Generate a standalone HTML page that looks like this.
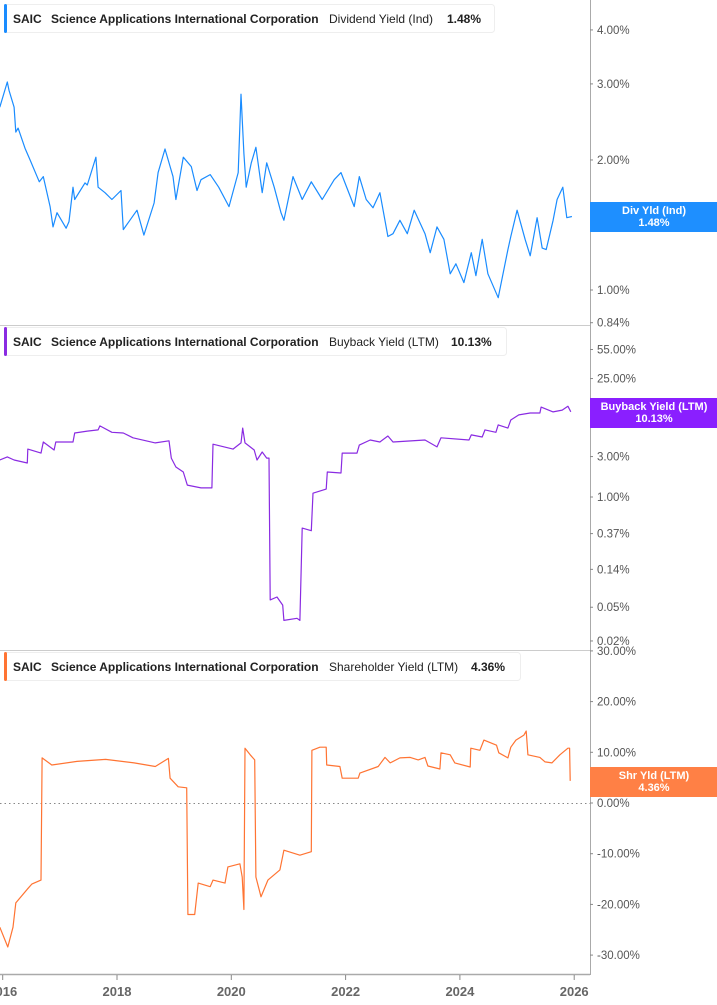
<!DOCTYPE html>
<html><head><meta charset="utf-8"><style>
body{margin:0;background:#fff;width:717px;height:1005px;overflow:hidden;font-family:"Liberation Sans",sans-serif}
svg{display:block}
.tk{font-size:11.5px;fill:#555}
.xl{font-size:13px;font-weight:bold;fill:#666}
.lg{font-size:12px;font-weight:bold;fill:#222}
.lgn{font-size:12px;fill:#222}
.tag{font-size:11px;font-weight:bold;fill:#fff}
</style></head><body>
<svg id="chart" width="717" height="1005" xmlns="http://www.w3.org/2000/svg"></svg>
<script>
// ---- data ----
const xYears = [2016, 2018, 2020, 2022, 2024, 2026];
const divTicks = [4, 3, 2, 1, 0.84];
const bbTicks = [55, 25, 3, 1, 0.37, 0.14, 0.05, 0.02];
const shrTicks = [30, 20, 10, 0, -10, -20, -30];
const divDates = [2015.95,2016.08,2016.11,2016.2,2016.23,2016.27,2016.39,2016.48,2016.64,2016.71,2016.83,2016.88,2016.95,2017.11,2017.16,2017.23,2017.26,2017.44,2017.48,2017.63,2017.67,2017.79,2017.91,2018.07,2018.11,2018.35,2018.47,2018.65,2018.72,2018.84,2018.98,2019.03,2019.16,2019.3,2019.4,2019.47,2019.63,2019.78,2019.96,2020.12,2020.17,2020.22,2020.26,2020.35,2020.43,2020.54,2020.62,2020.75,2020.87,2020.92,2021.08,2021.24,2021.4,2021.59,2021.8,2021.92,2022.15,2022.24,2022.36,2022.48,2022.6,2022.74,2022.83,2022.95,2023.08,2023.2,2023.39,2023.48,2023.6,2023.72,2023.83,2023.93,2024.07,2024.2,2024.28,2024.39,2024.49,2024.67,2024.84,2024.89,2025.0,2025.14,2025.23,2025.35,2025.44,2025.51,2025.63,2025.7,2025.8,2025.87,2025.96];
const divVals = [2.65,3.03,2.9,2.65,2.32,2.37,2.13,2.0,1.78,1.83,1.56,1.4,1.51,1.39,1.44,1.73,1.62,1.77,1.75,2.03,1.73,1.68,1.62,1.7,1.38,1.53,1.34,1.59,1.87,2.12,1.83,1.62,2.03,1.93,1.7,1.8,1.85,1.73,1.56,1.87,2.84,2.07,1.73,1.97,2.14,1.68,1.97,1.73,1.51,1.45,1.83,1.62,1.78,1.62,1.8,1.87,1.56,1.83,1.62,1.55,1.68,1.33,1.35,1.45,1.35,1.53,1.35,1.22,1.4,1.31,1.09,1.15,1.04,1.22,1.08,1.31,1.09,0.96,1.24,1.33,1.53,1.31,1.2,1.47,1.25,1.24,1.45,1.62,1.73,1.47,1.48];
const bbDates = [2015.95,2016.08,2016.2,2016.43,2016.44,2016.67,2016.71,2016.9,2016.93,2017.23,2017.26,2017.48,2017.67,2017.7,2017.91,2018.11,2018.28,2018.67,2018.91,2018.95,2019.03,2019.16,2019.23,2019.47,2019.66,2019.68,2020.03,2020.17,2020.2,2020.24,2020.4,2020.45,2020.54,2020.62,2020.66,2020.68,2020.8,2020.9,2020.92,2021.15,2021.2,2021.24,2021.4,2021.43,2021.66,2021.68,2021.92,2021.94,2022.2,2022.24,2022.43,2022.6,2022.74,2022.83,2023.39,2023.6,2023.67,2024.16,2024.2,2024.39,2024.44,2024.63,2024.67,2024.84,2024.89,2025.03,2025.23,2025.4,2025.42,2025.63,2025.79,2025.89,2025.94];
const bbVals = [2.73,2.97,2.73,2.52,3.68,3.3,4.46,3.59,4.46,4.46,5.7,6.0,6.2,6.9,5.8,5.7,5.0,4.35,4.6,2.88,2.26,1.97,1.38,1.28,1.28,4.2,3.68,4.35,6.5,4.35,3.59,2.73,3.4,2.88,2.88,0.061,0.066,0.053,0.035,0.037,0.035,0.43,0.4,1.11,1.24,1.97,1.92,3.3,3.3,4.1,4.7,4.46,5.25,4.46,4.7,3.9,5.0,4.7,5.4,5.1,6.2,5.8,7.1,6.5,8.1,9.3,9.8,9.8,11.5,10.1,10.6,11.8,10.13];
const shrDates = [2015.95,2016.09,2016.18,2016.23,2016.43,2016.51,2016.67,2016.69,2016.86,2017.3,2017.8,2018.3,2018.67,2018.9,2018.93,2019.07,2019.22,2019.24,2019.36,2019.42,2019.63,2019.68,2019.89,2019.94,2020.15,2020.19,2020.22,2020.24,2020.33,2020.41,2020.43,2020.52,2020.64,2020.85,2020.92,2021.2,2021.4,2021.41,2021.55,2021.66,2021.67,2021.9,2021.94,2022.22,2022.25,2022.57,2022.69,2022.78,2022.95,2023.13,2023.27,2023.39,2023.44,2023.65,2023.67,2023.83,2023.91,2024.18,2024.19,2024.35,2024.42,2024.64,2024.68,2024.84,2024.89,2024.98,2025.12,2025.16,2025.19,2025.4,2025.49,2025.61,2025.75,2025.89,2025.92,2025.93];
const shrVals = [-24.5,-28.4,-24.5,-19.7,-17,-16,-15.2,8.9,7.5,8.2,8.6,7.9,7.2,8.8,4.9,3.2,3.0,-22,-22,-15.8,-16.5,-15.2,-15.8,-12.6,-12,-14.6,-21,10.8,9.5,8.5,-14.6,-18.5,-15.2,-13.2,-9.3,-10.3,-9.6,10.4,11,11,7.5,7.2,4.9,4.9,5.9,7.2,9,7.9,8.9,9,8.5,9,7.3,6.7,9.9,9.5,7.9,7.1,10.8,10.4,12.4,11.4,9.9,8.9,11,12.4,13.4,14.2,9.5,9,8.1,7.9,9.5,10.8,10.8,4.36];

// ---- scales ----
const svg = document.getElementById('chart');
const NS = 'http://www.w3.org/2000/svg';
const AX = 590;
const xS = y => 2.7 + (y - 2016) * 57.15;
const yDiv = v => 290 - 187.6 * Math.log(v);
const yBb = v => 497 - 36.8 * Math.log(v);
const yShr = v => 803 - 5.07 * v;
function mk(tag, attrs, text){
  const e = document.createElementNS(NS, tag);
  for (const k in attrs) e.setAttribute(k, attrs[k]);
  if (text !== undefined) e.textContent = text;
  svg.appendChild(e); return e;
}
// frame
let e;
e = mk('line',{x1:0,y1:325.5,x2:AX,y2:325.5,stroke:'#ccc'});


e = mk('line',{x1:0,y1:650.5,x2:AX,y2:650.5,stroke:'#ccc'});


e = mk('line',{x1:AX+0.5,y1:0,x2:AX+0.5,y2:975,stroke:'#aaa'});


e = mk('line',{x1:0,y1:974.5,x2:AX,y2:974.5,stroke:'#aaa',"stroke-width":1.5});


e = mk('line',{x1:0,y1:803.5,x2:AX,y2:803.5,stroke:'#888',"stroke-dasharray":'1.5,3'});



function ticks(arr, yf, fmt, name){
  arr.forEach(v=>{
    const y = yf(v);
    e = mk('line',{x1:AX,y1:y,x2:AX+3,y2:y,stroke:'#888'});
    
    
    e = mk('text',{x:597,y:y+4,class:'tk'}, fmt(v));
    
    
  });
}
ticks(divTicks, yDiv, v=>v.toFixed(2)+'%', 'div-axis');
ticks(bbTicks, yBb, v=>v.toFixed(2)+'%', 'buyback-axis');
ticks(shrTicks, yShr, v=>v.toFixed(2)+'%', 'shr-axis');
xYears.forEach(yr=>{
  const x = xS(yr);
  e = mk('line',{x1:x,y1:975,x2:x,y2:980,stroke:'#888'});
  
  
  e = mk('text',{x:x,y:996,class:'xl',"text-anchor":'middle'}, String(yr));
  
  
});
function series(d, v, yf, color, name, clipTop, clipBot){
  const pts = d.map((t,i)=>xS(t).toFixed(1)+','+yf(v[i]).toFixed(1)).join(' ');
  e = mk('polyline',{points:pts,fill:'none',stroke:color,"stroke-width":1.2,"stroke-linejoin":'round'});
  
  
}
series(divDates, divVals, yDiv, '#1a8cff', 'dividend-yield-line');
series(bbDates, bbVals, yBb, '#8a2be2', 'buyback-yield-line');
series(shrDates, shrVals, yShr, '#ff7433', 'shareholder-yield-line');

function legend(y, w, color, metric, val, name){
  e = mk('rect',{x:4.5,y:y+0.5,width:w,height:28,rx:3,fill:'#fff',stroke:'#eee'});
  
  
  e = mk('rect',{x:4,y:y,width:3,height:29,rx:1.5,fill:color});
  
  
  e = mk('text',{x:13,y:y+19,class:'lg'},'SAIC');
  
  
  e = mk('text',{x:51,y:y+19,class:'lg'},'Science Applications International Corporation');
  
  
  e = mk('text',{x:329,y:y+19,class:'lgn'},metric);
  
  
  const mx = {'Dividend Yield (Ind)':447,'Buyback Yield (LTM)':451,'Shareholder Yield (LTM)':471}[metric];
  e = mk('text',{x:mx,y:y+19,class:'lg'},val);
  
  
}
legend(4, 490, '#1a8cff', 'Dividend Yield (Ind)', '1.48%', 'div-legend');
legend(327, 502, '#8a2be2', 'Buyback Yield (LTM)', '10.13%', 'buyback-legend');
legend(652, 516, '#ff7433', 'Shareholder Yield (LTM)', '4.36%', 'shr-legend');

function tag(y, color, l1, l2, name){
  e = mk('rect',{x:AX,y:y,width:127,height:30,fill:color});
  
  
  e = mk('text',{x:654,y:y+12,class:'tag',"text-anchor":'middle'},l1);
  
  
  e = mk('text',{x:654,y:y+24,class:'tag',"text-anchor":'middle'},l2);
  
  
}
tag(202, '#1e8fff', 'Div Yld (Ind)', '1.48%', 'div-value-tag');
e = mk('text',{x:597,y:423,class:'tk'},'8.00%');


tag(398, '#8a1fff', 'Buyback Yield (LTM)', '10.13%', 'buyback-value-tag');
tag(767, '#ff8045', 'Shr Yld (LTM)', '4.36%', 'shr-value-tag');
</script>
</body></html>
